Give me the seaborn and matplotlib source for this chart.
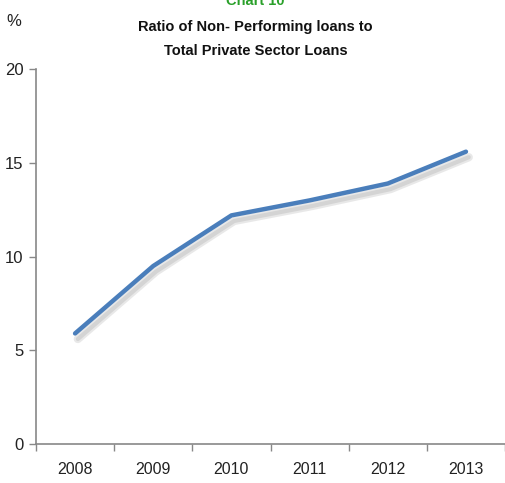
import matplotlib
matplotlib.use("Agg")
import matplotlib.pyplot as plt
import matplotlib.patheffects as pe
import seaborn as sns
import pandas as pd
import numpy as np

# data
years = ["2008", "2009", "2010", "2011", "2012", "2013"]
npl_ratio = [5.9, 9.5, 12.2, 13.0, 13.9, 15.6]

sns.set_style("white")
plt.rcParams['font.family'] = ['Liberation Sans Narrow', 'Liberation Sans', 'DejaVu Sans']

df = pd.DataFrame({"pos": np.arange(len(years)), "ratio": npl_ratio})

fig = plt.figure(figsize=(5.06, 4.83), dpi=100)
ax = fig.add_axes([0.0711, 0.0807, 0.927, 0.776])

sns.lineplot(data=df, x="pos", y="ratio", ax=ax, color="#4a7ebb", linewidth=3.2)
line = ax.get_lines()[0]
line.set_solid_capstyle("round")
line.set_path_effects([
    pe.SimpleLineShadow(offset=(2, -4), shadow_color="#999999", alpha=0.22, linewidth=6),
    pe.SimpleLineShadow(offset=(2, -4), shadow_color="#999999", alpha=0.25, linewidth=3),
    pe.Normal(),
])

ax.set_xlim(-0.5, len(years) - 0.5)
ax.set_ylim(0, 20)
ax.set_yticks([0, 5, 10, 15, 20])
ax.set_xticks(np.arange(len(years)))
ax.set_xticklabels(years)
ax.set_xticks(np.arange(len(years) + 1) - 0.5, minor=True)
ax.tick_params(axis="x", which="major", bottom=False, length=0, pad=13, labelsize=11.5, colors="#222222")
ax.tick_params(axis="x", which="minor", bottom=True, length=5, width=1, color="#888888", direction="out")
ax.tick_params(axis="y", left=True, length=5, width=1, color="#888888", direction="out",
               labelsize=12, pad=4, labelcolor="#222222")
ax.set_xlabel("")
ax.set_ylabel("")

for s in ["top", "right"]:
    ax.spines[s].set_visible(False)
for s in ["left", "bottom"]:
    ax.spines[s].set_color("#888888")
    ax.spines[s].set_linewidth(1.2)

fig.text(0.505, 0.997, "Chart 10", ha="center", va="center", color="#2aa02a",
         fontsize=10.5, fontweight="bold")
fig.text(0.505, 0.944, "Ratio of Non- Performing loans to", ha="center", va="center",
         fontsize=10.5, fontweight="bold", color="#111111")
fig.text(0.505, 0.894, "Total Private Sector Loans", ha="center", va="center",
         fontsize=10.5, fontweight="bold", color="#111111")
fig.text(0.028, 0.955, "%", ha="center", va="center", fontsize=12, color="#222222")

fig.savefig("out.png", dpi=100)
